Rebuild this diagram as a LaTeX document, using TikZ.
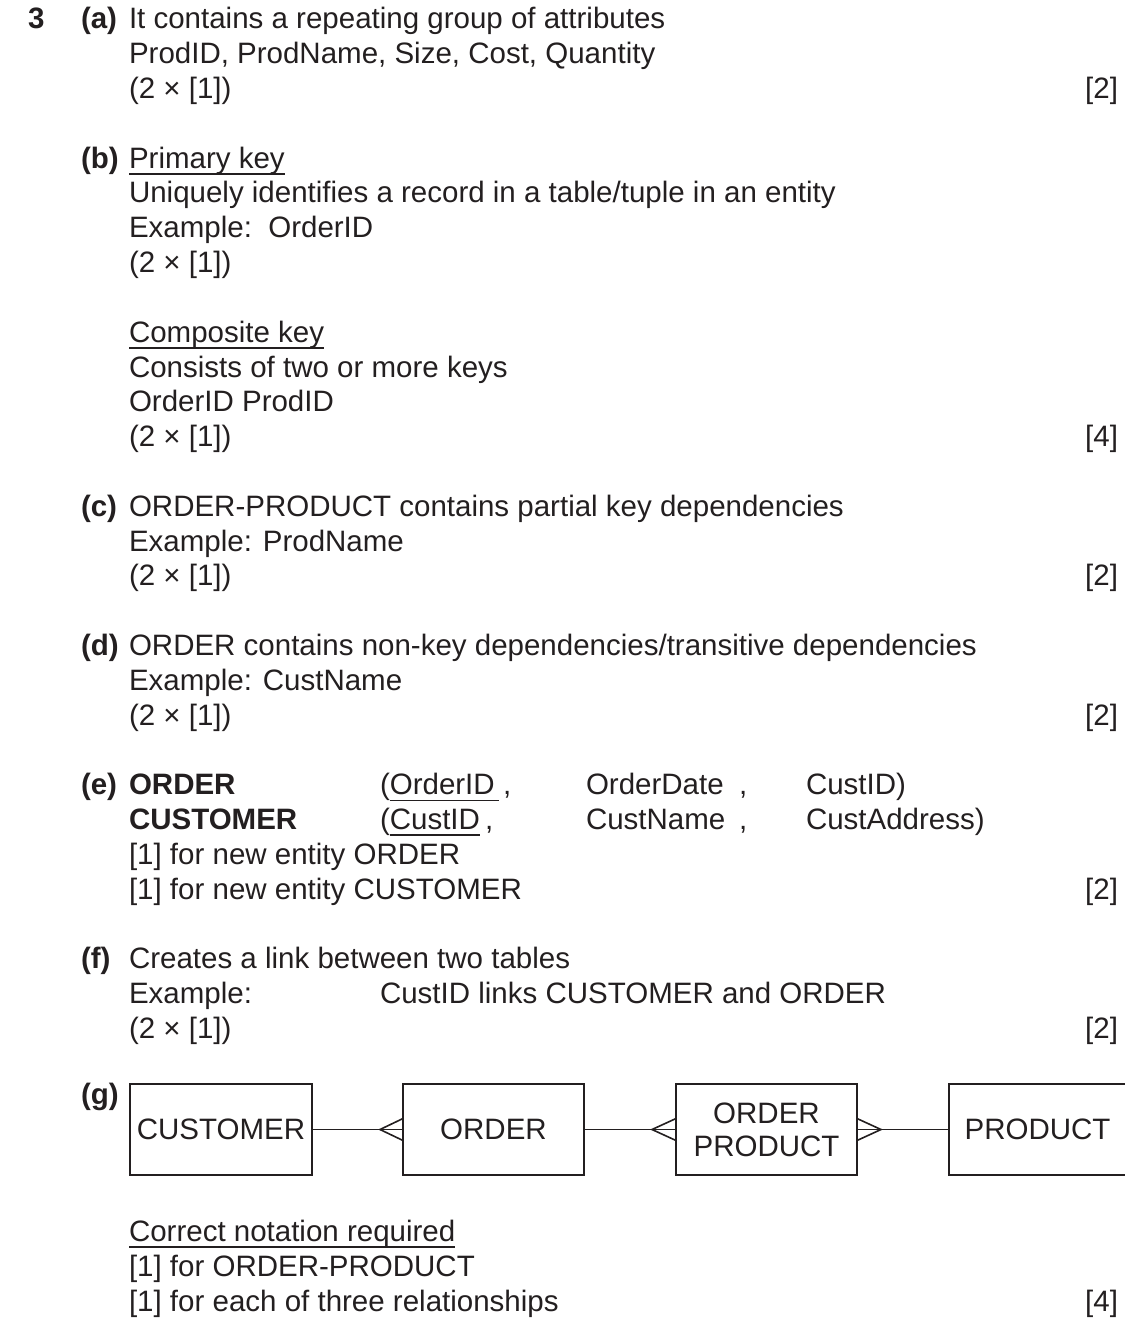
\documentclass[tikz,border=0pt]{standalone}
\usepackage{fontspec}
\setmainfont{Liberation Sans}
\definecolor{ink}{RGB}{35,31,32}
\newcommand\ulx[1]{\setbox0\hbox{#1}\rlap{\rule[-6.5pt]{\wd0}{1.5pt}}\box0}
\begin{document}
\begin{tikzpicture}[x=1pt,y=-1pt,
  every node/.style={inner sep=0pt, outer sep=0pt, text=ink, font=\fontsize{29.5}{34.8}\selectfont},
  txt/.style={anchor=base west},
  markx/.style={anchor=base east},
  lbl/.style={anchor=base west, font=\fontsize{29.5}{34.8}\selectfont\bfseries},
  ent/.style={draw=ink, line width=1.6pt, minimum height=91pt, align=center},
  conn/.style={draw=ink, line width=1.6pt}]
\useasboundingbox (0,0) rectangle (1124,1321);

% (a)
\node[lbl] (q3) at (28,29) {3};
\node[lbl] (la) at (81,29) {(a)};
\node[txt] (a1) at (129,29) {It contains a repeating group of attributes};
\node[txt] (a2) at (129,63.8) {ProdID, ProdName, Size, Cost, Quantity};
\node[txt] (a3) at (129,98.6) {(2 × [1])};
\node[markx] (ma) at (1118,98.6) {[2]};

% (b)
\node[lbl] (lb) at (81,168.2) {(b)};
\node[txt] (b1) at (129,168.2) {\ulx{Primary key}};
\node[txt] (b2) at (129,203) {Uniquely identifies a record in a table/tuple in an entity};
\node[txt] (b3) at (129,237.8) {Example:\ \ OrderID};
\node[txt] (b4) at (129,272.6) {(2 × [1])};
\node[txt] (b5) at (129,342.2) {\ulx{Composite key}};
\node[txt] (b6) at (129,377) {Consists of two or more keys};
\node[txt] (b7) at (129,411.8) {OrderID ProdID};
\node[txt] (b8) at (129,446.6) {(2 × [1])};
\node[markx] (mb) at (1118,446.6) {[4]};

% (c)
\node[lbl] (lc) at (81,516.2) {(c)};
\node[txt] (c1) at (129,516.2) {ORDER-PRODUCT contains partial key dependencies};
\node[txt] (c2) at (129,551) {Example: ProdName};
\node[txt] (c3) at (129,585.8) {(2 × [1])};
\node[markx] (mc) at (1118,585.8) {[2]};

% (d)
\node[lbl] (ld) at (81,655.4) {(d)};
\node[txt] (d1) at (129,655.4) {ORDER contains non-key dependencies/transitive dependencies};
\node[txt] (d2) at (129,690.2) {Example: CustName};
\node[txt] (d3) at (129,725) {(2 × [1])};
\node[markx] (md) at (1118,725) {[2]};

% (e)
\node[lbl] (le) at (81,794.6) {(e)};
\node[lbl] (e1) at (129,794.6) {ORDER};
\node[txt] (e1a) at (380,794.6) {(\ulx{OrderID\kern4pt}};
\node[txt] (e1b) at (503,794.6) {,};
\node[txt] (e1c) at (586,794.6) {OrderDate};
\node[txt] (e1d) at (739,794.6) {,};
\node[txt] (e1e) at (806,794.6) {CustID)};
\node[lbl] (e2) at (129,829.4) {CUSTOMER};
\node[txt] (e2a) at (380,829.4) {(\ulx{CustID}};
\node[txt] (e2b) at (485,829.4) {,};
\node[txt] (e2c) at (586,829.4) {CustName};
\node[txt] (e2d) at (739,829.4) {,};
\node[txt] (e2e) at (806,829.4) {CustAddress)};
\node[txt] (e3) at (129,864.2) {[1] for new entity ORDER};
\node[txt] (e4) at (129,899) {[1] for new entity CUSTOMER};
\node[markx] (me) at (1118,899) {[2]};

% (f)
\node[lbl] (lf) at (81,968.6) {(f)};
\node[txt] (f1) at (129,968.6) {Creates a link between two tables};
\node[txt] (f2) at (129,1003.4) {Example:};
\node[txt] (f2b) at (380,1003.4) {CustID links CUSTOMER and ORDER};
\node[txt] (f3) at (129,1038.2) {(2 × [1])};
\node[markx] (mf) at (1118,1038.2) {[2]};

% (g)
\node[lbl] (lg) at (81,1104) {(g)};
\node[ent, minimum width=182pt] (cust) at (221,1129.5) {CUSTOMER};
\node[ent, minimum width=181pt] (ord) at (493.5,1129.5) {ORDER};
\node[ent, minimum width=181pt, font=\fontsize{29.5}{33}\selectfont] (op) at (766.5,1129.5) {ORDER\\PRODUCT};
\node[ent, minimum width=177pt] (prod) at (1037.5,1129.5) {PRODUCT};

\draw[conn] (cust.east) -- (ord.west);
\draw[conn] (ord.west) ++(0,-11) -- ++(-23,11) -- ++(23,11);
\draw[conn] (ord.east) -- (op.west);
\draw[conn] (op.west) ++(0,-11) -- ++(-24,11) -- ++(24,11);
\draw[conn] (op.east) -- (prod.west);
\draw[conn] (op.east) ++(0,-11) -- ++(24,11) -- ++(-24,11);

\node[txt] (g1) at (129,1241) {\ulx{Correct notation required}};
\node[txt] (g2) at (129,1276) {[1] for ORDER-PRODUCT};
\node[txt] (g3) at (129,1311) {[1] for each of three relationships};
\node[markx] (mg) at (1118,1311) {[4]};
\end{tikzpicture}
\end{document}
